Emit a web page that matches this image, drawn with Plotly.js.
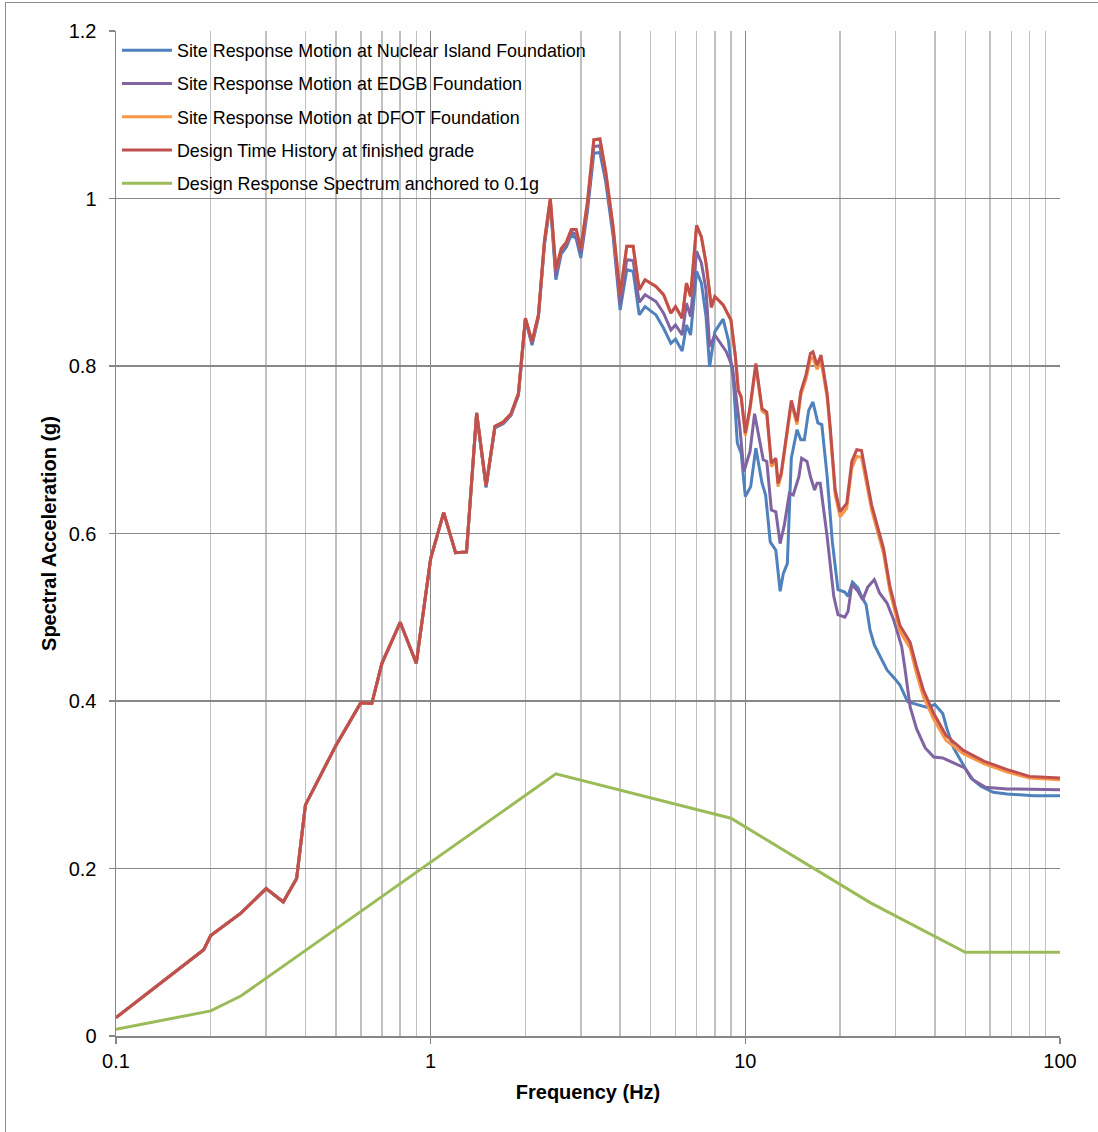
<!DOCTYPE html>
<html>
<head>
<meta charset="utf-8">
<script src="https://cdn.plot.ly/plotly-3.0.1.min.js"></script>
<style>
  html, body { margin: 0; padding: 0; background: #fff; overflow: hidden; }
  #chart { width: 1098px; height: 1132px; }
  #frame { position: absolute; left: 5px; top: 2px; width: 2000px; height: 2000px;
           border-left: 1.5px solid #8c8c8c; border-top: 1.5px solid #8c8c8c; pointer-events: none; }
</style>
</head>
<body>
<div id="chart"></div>
<div id="frame"></div>
<script>
// ---- Data ----
const seriesNames = [
  "Site Response Motion at Nuclear Island Foundation",
  "Site Response Motion at EDGB Foundation",
  "Site Response Motion at DFOT Foundation",
  "Design Time History at finished grade",
  "Design Response Spectrum anchored to 0.1g"
];

// Design time history (red) and DFOT (orange) share frequencies
const freqTH = [
  0.1, 0.19, 0.2, 0.25, 0.3, 0.34, 0.375, 0.4, 0.5, 0.6,
  0.65, 0.7, 0.8, 0.9, 1.0, 1.1, 1.2, 1.3, 1.4, 1.5,
  1.6, 1.7, 1.8, 1.9, 2.0, 2.1, 2.2, 2.3, 2.4, 2.5,
  2.6, 2.7, 2.8, 2.9, 3.0, 3.15, 3.3, 3.45, 3.6, 3.8,
  4.0, 4.2, 4.4, 4.6, 4.8, 5.2, 5.5, 5.8, 6.0, 6.3,
  6.5, 6.7, 7.0, 7.25, 7.5, 7.8, 8.0, 8.5, 9.0, 9.3,
  9.5, 9.7, 10, 10.35, 10.8, 11.3, 11.7, 12.1, 12.5, 12.7,
  13.0, 14.0, 14.6, 15.0, 15.6, 16.1, 16.4, 16.9, 17.4, 18.2,
  18.6, 19.3, 20, 21, 21.8, 22.6, 23.4, 25.2, 27.5, 28.8,
  31, 33.4, 35, 36.8, 39.7, 43.4, 49.3, 57.5, 68, 80, 100
];
const designTH = [
  0.022, 0.103, 0.120, 0.147, 0.176, 0.160, 0.188, 0.276, 0.347, 0.398,
  0.397, 0.445, 0.494, 0.445, 0.570, 0.625, 0.577, 0.578, 0.744, 0.657,
  0.728, 0.733, 0.743, 0.767, 0.857, 0.829, 0.861, 0.950, 1.000, 0.915,
  0.940, 0.948, 0.963, 0.963, 0.940, 0.996, 1.070, 1.071, 1.032, 0.966,
  0.885, 0.943, 0.943, 0.891, 0.903, 0.895, 0.885, 0.863, 0.871, 0.857,
  0.899, 0.883, 0.968, 0.954, 0.923, 0.870, 0.883, 0.873, 0.855, 0.811,
  0.771, 0.763, 0.720, 0.751, 0.803, 0.749, 0.745, 0.684, 0.690, 0.660,
  0.672, 0.759, 0.734, 0.769, 0.790, 0.815, 0.817, 0.801, 0.813, 0.767,
  0.728, 0.652, 0.626, 0.636, 0.686, 0.700, 0.699, 0.634, 0.582, 0.537,
  0.490, 0.470, 0.441, 0.413, 0.385, 0.359, 0.341, 0.328, 0.318, 0.310, 0.308
];
const dfot = [
  0.022, 0.103, 0.120, 0.147, 0.176, 0.160, 0.188, 0.276, 0.347, 0.398,
  0.397, 0.445, 0.494, 0.445, 0.570, 0.625, 0.577, 0.578, 0.744, 0.657,
  0.728, 0.733, 0.743, 0.767, 0.857, 0.829, 0.861, 0.950, 1.000, 0.915,
  0.940, 0.948, 0.963, 0.963, 0.940, 0.996, 1.070, 1.071, 1.032, 0.966,
  0.885, 0.943, 0.943, 0.891, 0.903, 0.895, 0.885, 0.863, 0.871, 0.857,
  0.899, 0.883, 0.968, 0.954, 0.923, 0.870, 0.883, 0.873, 0.855, 0.811,
  0.771, 0.763, 0.717, 0.748, 0.800, 0.746, 0.742, 0.680, 0.686, 0.656,
  0.669, 0.755, 0.730, 0.765, 0.785, 0.808, 0.810, 0.796, 0.806, 0.762,
  0.723, 0.646, 0.620, 0.630, 0.678, 0.692, 0.691, 0.628, 0.576, 0.531,
  0.483, 0.463, 0.433, 0.405, 0.378, 0.353, 0.337, 0.325, 0.315, 0.308, 0.306
];

// Nuclear Island foundation (blue)
const freqNI = [
  0.1, 0.19, 0.2, 0.25, 0.3, 0.34, 0.375, 0.4, 0.5, 0.6,
  0.65, 0.7, 0.8, 0.9, 1.0, 1.1, 1.2, 1.3, 1.4, 1.5,
  1.6, 1.7, 1.8, 1.9, 2.0, 2.1, 2.2, 2.3, 2.4, 2.5,
  2.6, 2.7, 2.8, 2.9, 3.0, 3.15, 3.3, 3.45, 3.6, 3.8,
  4.0, 4.2, 4.4, 4.6, 4.8, 5.2, 5.5, 5.8, 6.0, 6.3,
  6.5, 6.7, 7.0, 7.25, 7.5, 7.7, 8.0, 8.5, 8.83, 9.16,
  9.43, 9.7, 10, 10.4, 10.8, 11.3, 11.6, 12.0, 12.5, 12.9,
  13.2, 13.6, 14.0, 14.6, 15.0, 15.4, 15.9, 16.4, 17.0, 17.5,
  18.2, 18.9, 19.7, 20.7, 21.2, 21.9, 22.8, 23.4, 24.2, 24.9,
  25.7, 26.7, 28.2, 29.8, 31.0, 32.8, 36.0, 38.1, 40, 42.4,
  43.7, 45.9, 48.9, 52.1, 56.2, 61.4, 67.9, 82.6, 100
];
const nuclearIsland = [
  0.022, 0.103, 0.120, 0.147, 0.176, 0.160, 0.188, 0.276, 0.347, 0.398,
  0.397, 0.445, 0.494, 0.445, 0.570, 0.625, 0.577, 0.578, 0.743, 0.655,
  0.726, 0.731, 0.741, 0.765, 0.855, 0.825, 0.858, 0.945, 0.995, 0.903,
  0.934, 0.942, 0.957, 0.952, 0.929, 0.985, 1.054, 1.055, 1.020, 0.955,
  0.867, 0.915, 0.913, 0.861, 0.871, 0.861, 0.845, 0.827, 0.832, 0.818,
  0.849, 0.837, 0.913, 0.899, 0.859, 0.799, 0.841, 0.856, 0.831, 0.783,
  0.708, 0.696, 0.644, 0.656, 0.702, 0.660, 0.646, 0.590, 0.580, 0.531,
  0.552, 0.564, 0.690, 0.724, 0.712, 0.712, 0.747, 0.757, 0.732, 0.730,
  0.668, 0.590, 0.533, 0.530, 0.525, 0.542, 0.535, 0.525, 0.515, 0.485,
  0.467, 0.455, 0.437, 0.427, 0.419, 0.399, 0.395, 0.392, 0.396, 0.385,
  0.367, 0.344, 0.326, 0.308, 0.298, 0.291, 0.289, 0.287, 0.287
];

// EDGB foundation (purple)
const freqEDGB = [
  0.1, 0.19, 0.2, 0.25, 0.3, 0.34, 0.375, 0.4, 0.5, 0.6,
  0.65, 0.7, 0.8, 0.9, 1.0, 1.1, 1.2, 1.3, 1.4, 1.5,
  1.6, 1.7, 1.8, 1.9, 2.0, 2.1, 2.2, 2.3, 2.4, 2.5,
  2.6, 2.7, 2.8, 2.9, 3.0, 3.15, 3.3, 3.45, 3.6, 3.8,
  4.0, 4.2, 4.4, 4.6, 4.8, 5.2, 5.5, 5.8, 6.0, 6.3,
  6.5, 6.7, 7.0, 7.25, 7.5, 7.7, 8.0, 8.7, 9.1, 9.35,
  9.6, 9.9, 10.35, 10.7, 11.2, 11.4, 11.7, 12.1, 12.5, 12.9,
  13.3, 13.8, 14.2, 14.8, 15.1, 15.7, 16.1, 16.6, 16.9, 17.3,
  18.2, 19.1, 19.7, 20.7, 21.2, 21.8, 22.8, 23.6, 24.5, 25.7,
  26.7, 28.2, 29.6, 31.4, 32.2, 33.4, 35.0, 37.3, 39.7, 42.4,
  45.9, 49.8, 52.9, 58.0, 67.9, 100
];
const edgb = [
  0.022, 0.103, 0.120, 0.147, 0.176, 0.160, 0.188, 0.276, 0.347, 0.398,
  0.397, 0.445, 0.494, 0.445, 0.570, 0.625, 0.577, 0.578, 0.744, 0.656,
  0.727, 0.732, 0.742, 0.766, 0.856, 0.827, 0.860, 0.947, 0.997, 0.908,
  0.937, 0.945, 0.960, 0.957, 0.934, 0.990, 1.062, 1.063, 1.026, 0.960,
  0.873, 0.927, 0.926, 0.876, 0.885, 0.877, 0.863, 0.843, 0.849, 0.837,
  0.875, 0.859, 0.937, 0.923, 0.891, 0.823, 0.837, 0.817, 0.799, 0.759,
  0.728, 0.674, 0.698, 0.743, 0.704, 0.688, 0.686, 0.628, 0.626, 0.588,
  0.610, 0.648, 0.646, 0.668, 0.690, 0.686, 0.668, 0.652, 0.660, 0.660,
  0.596, 0.525, 0.503, 0.500, 0.507, 0.539, 0.531, 0.521, 0.536, 0.545,
  0.529, 0.517, 0.497, 0.465, 0.437, 0.393, 0.367, 0.344, 0.333, 0.332,
  0.326, 0.320, 0.306, 0.297, 0.295, 0.294
];

// Design response spectrum (green)
const freqDRS = [0.1, 0.2, 0.25, 2.5, 9, 25, 50, 100];
const designRS = [0.008, 0.030, 0.048, 0.313, 0.260, 0.159, 0.100, 0.100];

// Axis ticks
const yTicks = [0, 0.2, 0.4, 0.6, 0.8, 1, 1.2];
const xTicks = [0.1, 1, 10, 100];
const xTickText = ["0.1", "1", "10", "100"];

// ---- Plot ----
const colors = ["#4F81BD", "#8064A2", "#F79646", "#C0504D", "#9BBB59"];
const xs = [freqNI, freqEDGB, freqTH, freqTH, freqDRS];
const ys = [nuclearIsland, edgb, dfot, designTH, designRS];

const traces = seriesNames.map((name, i) => ({
  type: "scatter",
  mode: "lines",
  name: name,
  x: xs[i],
  y: ys[i],
  legendgroup: "g" + i,
  line: { color: colors[i], width: 3 }
}));

const font = "Liberation Sans, Arial, sans-serif";
const layout = {
  width: 1098,
  height: 1132,
  margin: { l: 116, r: 38, t: 31, b: 96, pad: 0 },
  paper_bgcolor: "#ffffff",
  plot_bgcolor: "#ffffff",
  font: { family: font, size: 18, color: "#000000" },
  showlegend: true,
  legend: {
    x: 0.001, y: 0.999, xanchor: "left", yanchor: "top",
    bgcolor: "rgba(0,0,0,0)", borderwidth: 0,
    traceorder: "grouped", tracegroupgap: 7, itemwidth: 50,
    font: { family: font, size: 17.9, color: "#000000" }
  },
  xaxis: {
    type: "log",
    range: [-1, 2],
    tickmode: "array",
    tickvals: xTicks,
    ticktext: xTickText,
    ticks: "outside", ticklen: 6, tickcolor: "#868686", tickwidth: 1.5,
    showgrid: true, gridcolor: "#878787", gridwidth: 1.5,
    minor: { dtick: "D1", showgrid: true, gridcolor: "#c0c0c0", gridwidth: 1.5, ticks: "" },
    showline: true, linecolor: "#868686", linewidth: 1.5,
    zeroline: false,
    tickfont: { family: font, size: 20, color: "#000" },
    title: { text: "<b>Frequency (Hz)</b>", font: { family: font, size: 20, color: "#000" }, standoff: 14 }
  },
  yaxis: {
    range: [0, 1.2],
    tickmode: "array",
    tickvals: yTicks,
    ticks: "outside", ticklen: 6, tickcolor: "#868686", tickwidth: 1.5,
    showgrid: true, gridcolor: "#878787", gridwidth: 1.5,
    showline: true, linecolor: "#868686", linewidth: 1.5,
    zeroline: false,
    ticklabelstandoff: 8,
    tickfont: { family: font, size: 20, color: "#000" },
    title: { text: "<b>Spectral Acceleration (g)</b>", font: { family: font, size: 20, color: "#000" }, standoff: 6 }
  }
};

Plotly.newPlot("chart", traces, layout, { staticPlot: true, displayModeBar: false });
</script>
</body>
</html>
